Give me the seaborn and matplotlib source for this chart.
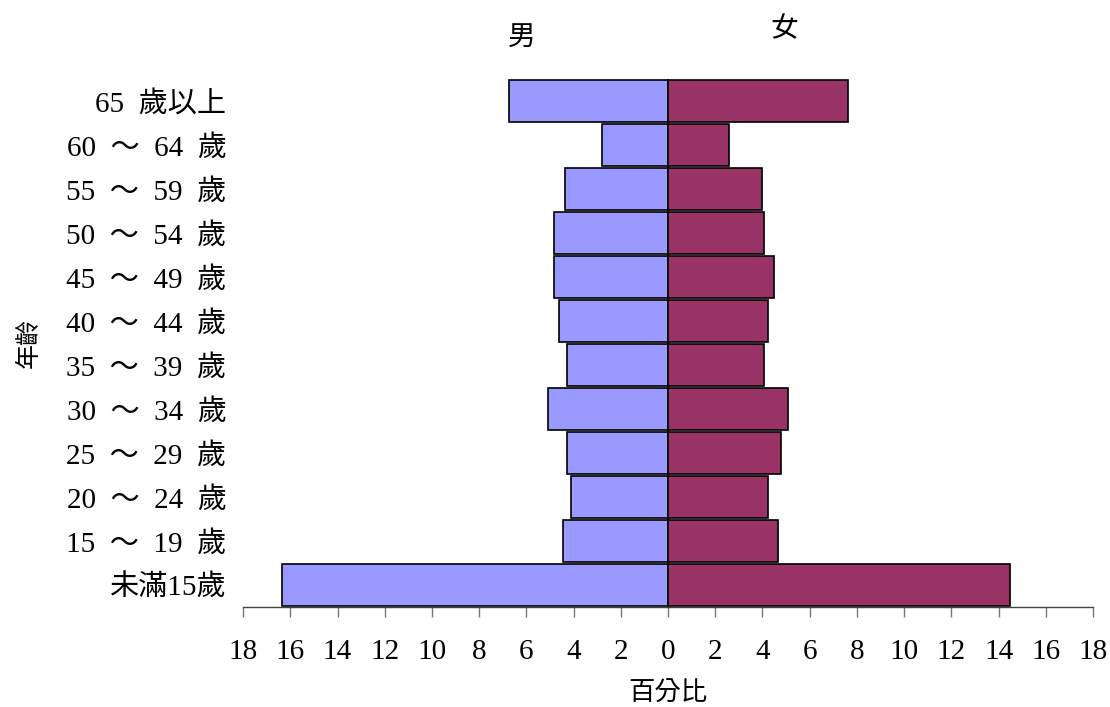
import matplotlib
matplotlib.use("Agg")
import matplotlib.pyplot as plt
import seaborn as sns
import numpy as np
import pandas as pd

# Age groups, top to bottom
age_groups = ["65  歲以上", "60  ～  64  歲", "55  ～  59  歲", "50  ～  54  歲", "45  ～  49  歲",
              "40  ～  44  歲", "35  ～  39  歲", "30  ～  34  歲", "25  ～  29  歲", "20  ～  24  歲",
              "15  ～  19  歲", "未滿15歲"]
# Share of population (%)
male_pct = [6.72, 2.81, 4.35, 4.84, 4.84, 4.61, 4.28, 5.07, 4.28, 4.11, 4.44, 16.36]
female_pct = [7.64, 2.60, 3.98, 4.07, 4.48, 4.24, 4.08, 5.06, 4.80, 4.24, 4.65, 14.48]
x_ticks = [-18, -16, -14, -12, -10, -8, -6, -4, -2, 0, 2, 4, 6, 8, 10, 12, 14, 16, 18]

sns.set_style("white")
plt.rcParams["font.family"] = ["Liberation Serif", "Noto Sans CJK TC", "DejaVu Sans"]
plt.rcParams["text.color"] = "black"
plt.rcParams["axes.labelcolor"] = "black"
plt.rcParams["xtick.color"] = "black"
plt.rcParams["ytick.color"] = "black"

df = pd.DataFrame({"age": age_groups, "male": male_pct, "female": female_pct})
df["male_neg"] = -df["male"]

fig = plt.figure(figsize=(11.1, 7.07), dpi=100)
ax = fig.add_axes([0.219, 0.1414, 0.7657, 0.7467])

bar_kw = dict(orient="h", width=0.96, edgecolor="black", linewidth=1.2, saturation=1, ax=ax)
sns.barplot(data=df, x="male_neg", y="age", order=age_groups, color="#9999FF", **bar_kw)
sns.barplot(data=df, x="female", y="age", order=age_groups, color="#993366", **bar_kw)

ax.axvline(0, color="black", lw=1.0, zorder=0.5)

ax.set_xlim(-18, 18)
ax.set_ylim(len(age_groups) - 0.5, -0.5)
ax.set_xticks(x_ticks)
ax.set_xticklabels([str(abs(t)) for t in x_ticks], fontsize=21)
ax.tick_params(axis="x", bottom=True, direction="out", length=7, width=1.0,
               color="#777777", labelcolor="black", pad=16)
ax.tick_params(axis="y", left=False, length=0, pad=12, labelsize=21, labelcolor="black")

for side in ["top", "right", "left"]:
    ax.spines[side].set_visible(False)
ax.spines["bottom"].set_color("#444444")
ax.spines["bottom"].set_linewidth(1.0)

ax.set_xlabel("百分比", fontsize=19, labelpad=12)
ax.set_ylabel("年齡", fontsize=18)
ax.yaxis.set_label_coords(-0.238, 0.5)

# Sex headings above the bars
ax.text(-6.2, 1.078, "男", transform=ax.get_xaxis_transform(), ha="center", va="center", fontsize=20)
ax.text(4.9, 1.092, "女", transform=ax.get_xaxis_transform(), ha="center", va="center", fontsize=20)

fig.savefig("out.png", dpi=100)
